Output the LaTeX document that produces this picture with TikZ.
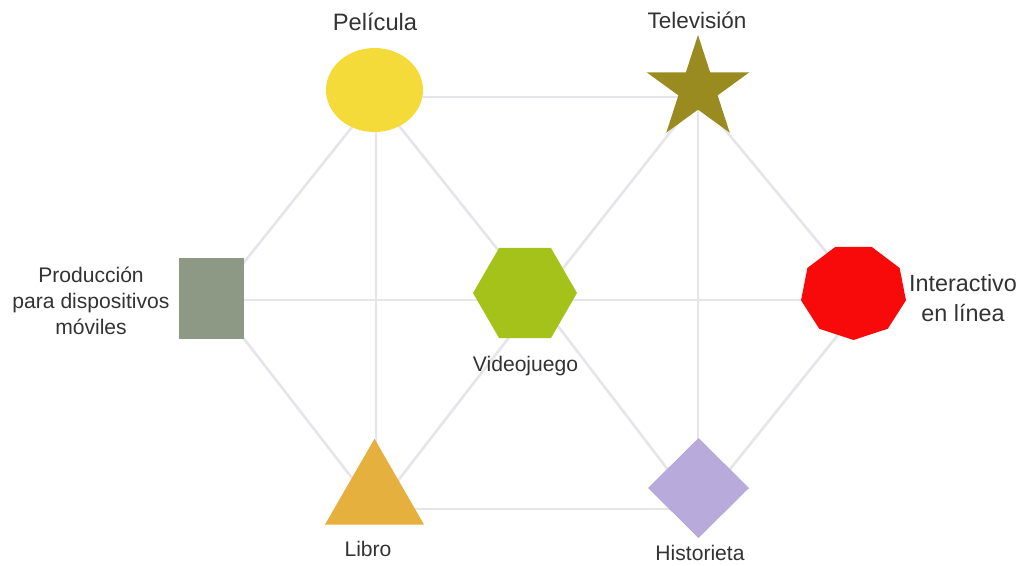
\documentclass[tikz,border=0pt]{standalone}
\usepackage{fontspec}
\setmainfont{Liberation Sans}
\usetikzlibrary{shapes.geometric,backgrounds}

\definecolor{linkgray}{HTML}{E6E6EA}
\definecolor{labelgray}{HTML}{333333}
\definecolor{pelyellow}{HTML}{F4DB3A}
\definecolor{tvolive}{HTML}{9A8B20}
\definecolor{movgray}{HTML}{8E9985}
\definecolor{gamegreen}{HTML}{A5C21A}
\definecolor{netred}{HTML}{F80A0A}
\definecolor{bookorange}{HTML}{E5B03E}
\definecolor{comiclilac}{HTML}{B9AADC}

\begin{document}
\begin{tikzpicture}[x=0.02cm, y=-0.02cm,
  link/.style={draw=linkgray, line width=1.5pt},
  shapebox/.style={inner sep=0pt, outer sep=0pt, draw=none},
  lbl/.style={text=labelgray, inner sep=0pt, align=center},
]
\useasboundingbox (0,0) rectangle (1023,565);

% media shapes
\node[shapebox, ellipse, fill=pelyellow, minimum width=1.94cm, minimum height=1.68cm]
  (pelicula) at (374.5,90) {};
\node[shapebox, star, star points=5, star point ratio=2.618, fill=tvolive, minimum size=2.16cm]
  (television) at (698,89) {};
\node[shapebox, rectangle, fill=movgray, minimum width=1.3cm, minimum height=1.62cm]
  (moviles) at (211.5,298.5) {};
\node[shapebox, regular polygon, regular polygon sides=6, fill=gamegreen, minimum size=2.08cm]
  (videojuego) at (525,293) {};
\node[shapebox, regular polygon, regular polygon sides=9, shape border rotate=180,
  fill=netred, minimum size=1.92cm, xscale=1.11, transform shape]
  (interactivo) at (853.5,292) {};
\node[shapebox, regular polygon, regular polygon sides=3, fill=bookorange, minimum size=2.29cm]
  (libro) at (374.5,496) {};
\node[shapebox, diamond, fill=comiclilac, minimum width=2.02cm, minimum height=2cm]
  (historieta) at (698.5,488) {};

% points where the links meet behind each shape
\coordinate (pel-hub) at (376,97);
\coordinate (tv-hub) at (698,97);
\coordinate (mov-hub) at (214,300);
\coordinate (game-hub) at (538,300);
\coordinate (net-hub) at (866,300);
\coordinate (book-hub) at (376,509);
\coordinate (comic-hub) at (698,509);

\begin{scope}[on background layer]
  \draw[link] (pel-hub) -- (tv-hub);
  \draw[link] (pel-hub) -- (mov-hub);
  \draw[link] (pel-hub) -- (book-hub);
  \draw[link] (pel-hub) -- (game-hub);
  \draw[link] (tv-hub) -- (game-hub);
  \draw[link] (tv-hub) -- (comic-hub);
  \draw[link] (tv-hub) -- (net-hub);
  \draw[link] (mov-hub) -- (game-hub);
  \draw[link] (game-hub) -- (net-hub);
  \draw[link] (mov-hub) -- (book-hub);
  \draw[link] (book-hub) -- (game-hub);
  \draw[link] (book-hub) -- (comic-hub);
  \draw[link] (game-hub) -- (comic-hub);
  \draw[link] (comic-hub) -- (net-hub);
\end{scope}

% labels
\node[lbl, font=\fontsize{13.5}{16}\selectfont] (pel-label) at (375,22) {Película};
\node[lbl, font=\fontsize{12.8}{15}\selectfont] (tv-label) at (697,20) {Televisión};
\node[lbl, font=\fontsize{12}{14.7}\selectfont] (mov-label) at (91,301)
  {Producción\\para dispositivos\\móviles};
\node[lbl, font=\fontsize{12}{14}\selectfont] (game-label) at (525.5,366) {Videojuego};
\node[lbl, font=\fontsize{13.3}{17}\selectfont] (net-label) at (963,298)
  {Interactivo\\en línea};
\node[lbl, font=\fontsize{12}{14}\selectfont] (book-label) at (368,549) {Libro};
\node[lbl, font=\fontsize{12}{14}\selectfont] (comic-label) at (700,553) {Historieta};
\end{tikzpicture}
\end{document}
